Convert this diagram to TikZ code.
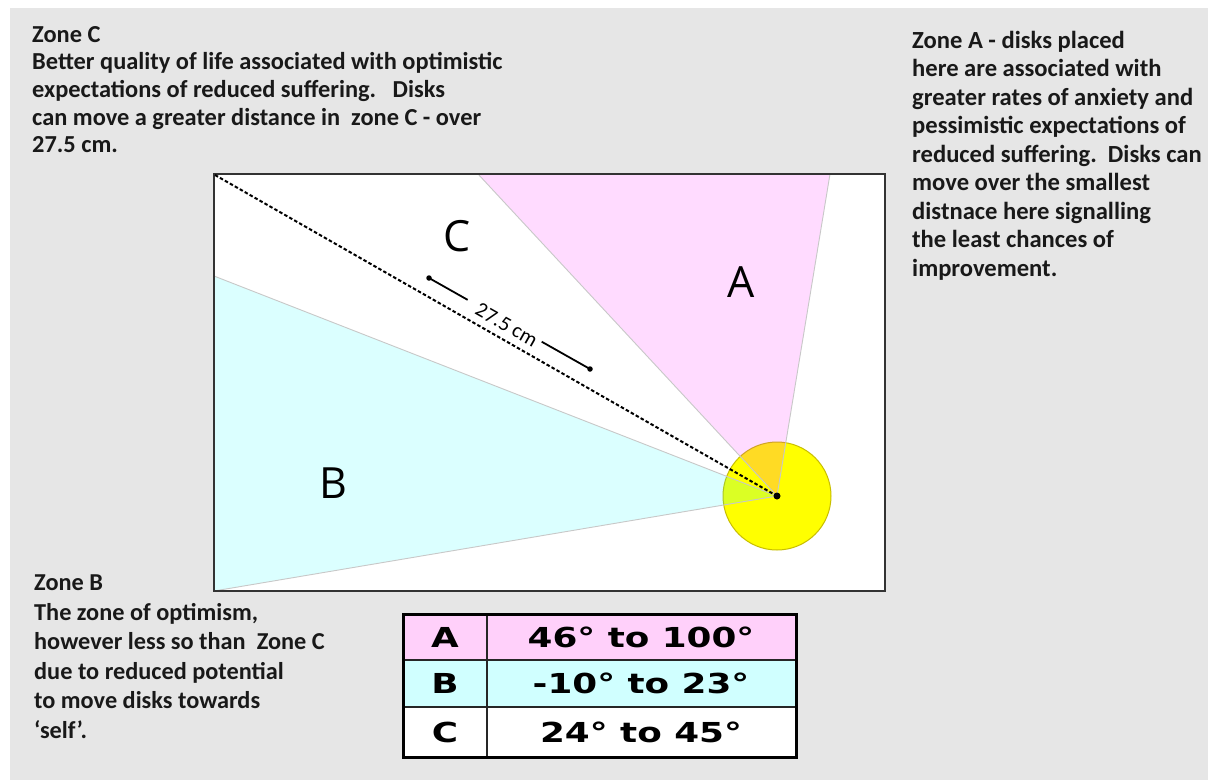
\documentclass[tikz,border=0pt]{standalone}
\usepackage{fontspec}
\setmainfont{Carlito}
\newfontfamily\letterfont{Open Sans}
\newfontfamily\tabfont[FakeStretch=1.3]{DejaVu Sans}
\usetikzlibrary{calc}
\definecolor{bggray}{RGB}{230,230,230}
\definecolor{txt}{RGB}{25,25,25}
\definecolor{circfill}{RGB}{255,255,0}
\definecolor{circedge}{RGB}{200,190,0}
\definecolor{edgegray}{RGB}{200,200,200}
\definecolor{rowA}{RGB}{255,208,250}
\definecolor{rowB}{RGB}{208,255,255}
\definecolor{zoneAcol}{RGB}{255,0,255}
\definecolor{zoneBcol}{RGB}{0,255,255}
\tikzset{
  desc/.style={anchor=north west, inner sep=0pt, align=left, text=txt},
  zonelet/.style={inner sep=0pt, font=\letterfont\fontsize{43}{43}\selectfont, text=black},
  zoneedge/.style={draw=edgegray, line width=0.9pt},
  dashline/.style={line width=2pt, dash pattern=on 3.5pt off 2.2pt},
  dimline/.style={line width=1.8pt},
  dimdot/.style={circle, fill=black, inner sep=0pt, minimum size=5.5pt},
  ctrdot/.style={circle, fill=black, inner sep=0pt, minimum size=7pt},
  dimlbl/.style={inner sep=1pt, font=\fontsize{21}{21}\selectfont},
  cellt/.style={font=\tabfont\bfseries\fontsize{27.5}{27.5}\selectfont, inner sep=0pt},
}
\begin{document}
\begin{tikzpicture}[x=1pt,y=-1pt]
\useasboundingbox (0,0) rectangle (1208,780);
\fill[white] (0,0) rectangle (1208,780);
\fill[bggray] (10,8) rectangle (1208,780);
% frame
\fill[white] (214,174) rectangle (885,591);
\begin{scope}
  \clip (214,174) rectangle (885,591);
  \filldraw[fill=circfill, draw=circedge, line width=1pt] (777,496) circle[radius=54];
  \fill[zoneAcol, fill opacity=0.14] (777,496) -- (478,174) -- (830,174) -- cycle;
  \fill[zoneBcol, fill opacity=0.14] (777,496) -- (214,276) -- (214,591) -- cycle;
  \draw[zoneedge] (478,174) -- (777,496) -- (830,174);
  \draw[zoneedge] (214,276) -- (777,496) -- (214,591);
\end{scope}
\draw[line width=2pt, draw=black!80] (214,174) rectangle (885,591);
% zone letters
\node[zonelet] (lC) at (457,236) {C};
\node[zonelet] (lA) at (741,282) {A};
\node[zonelet] (lB) at (333,483) {B};
% radius
\coordinate (corner) at (215,175);
\node[ctrdot] (ctr) at (777,496) {};
\draw[dashline] (corner) -- (ctr.center);
% dimension
\node[dimdot] (ds) at (429,278) {};
\node[dimdot] (de) at (590,369) {};
\coordinate (d1) at ($(ds)!0.24!(de)$);
\coordinate (d2) at ($(ds)!0.70!(de)$);
\draw[dimline] (ds.center) -- (d1);
\draw[dimline] (d2) -- (de.center);
\node[dimlbl, rotate=-29.5] (dl) at ($(ds)!0.47!(de)+(2,4)$) {27.5 cm};
% texts
\node[desc, font=\bfseries\fontsize{24.4}{27.6}\selectfont] (tC) at (32,26) {Zone C\\
Better quality of life associated with optimistic\\
expectations of reduced suffering.\ \ \ Disks\\
can move a greater distance in\ \ zone C - over\\
27.5 cm.};
\node[desc, font=\bfseries\fontsize{24.6}{28.5}\selectfont] (tA) at (912,31) {Zone A - disks placed\\
here are associated with\\
greater rates of anxiety and\\
pessimistic expectations of\\
reduced suffering.\ \ Disks can\\
move over the smallest\\
distnace here signalling\\
the least chances of\\
improvement.};
\node[desc, font=\bfseries\fontsize{24.3}{29.5}\selectfont] (tB) at (34,575) {Zone B\\
The zone of optimism,\\
however less so than\ \ Zone C\\
due to reduced potential\\
to move disks towards\\
‘self’.};
% table
\fill[rowA] (403,614) rectangle (796,660);
\fill[rowB] (403,660) rectangle (796,707);
\fill[white] (403,707) rectangle (796,757);
\draw[line width=1.5pt, draw=black!85] (403,660) -- (796,660);
\draw[line width=1.5pt, draw=black!85] (403,707) -- (796,707);
\draw[line width=1.5pt, draw=black!85] (487,614) -- (487,757);
\draw[line width=3pt, draw=black] (403,614) rectangle (796,757);
\node[cellt] (ka) at (445,637) {A};
\node[cellt] (va) at (641,637) {46° to 100°};
\node[cellt] (kb) at (445,683.5) {B};
\node[cellt] (vb) at (641,683.5) {-10° to 23°};
\node[cellt] (kc) at (445,732) {C};
\node[cellt] (vc) at (641,732) {24° to 45°};
\end{tikzpicture}
\end{document}
